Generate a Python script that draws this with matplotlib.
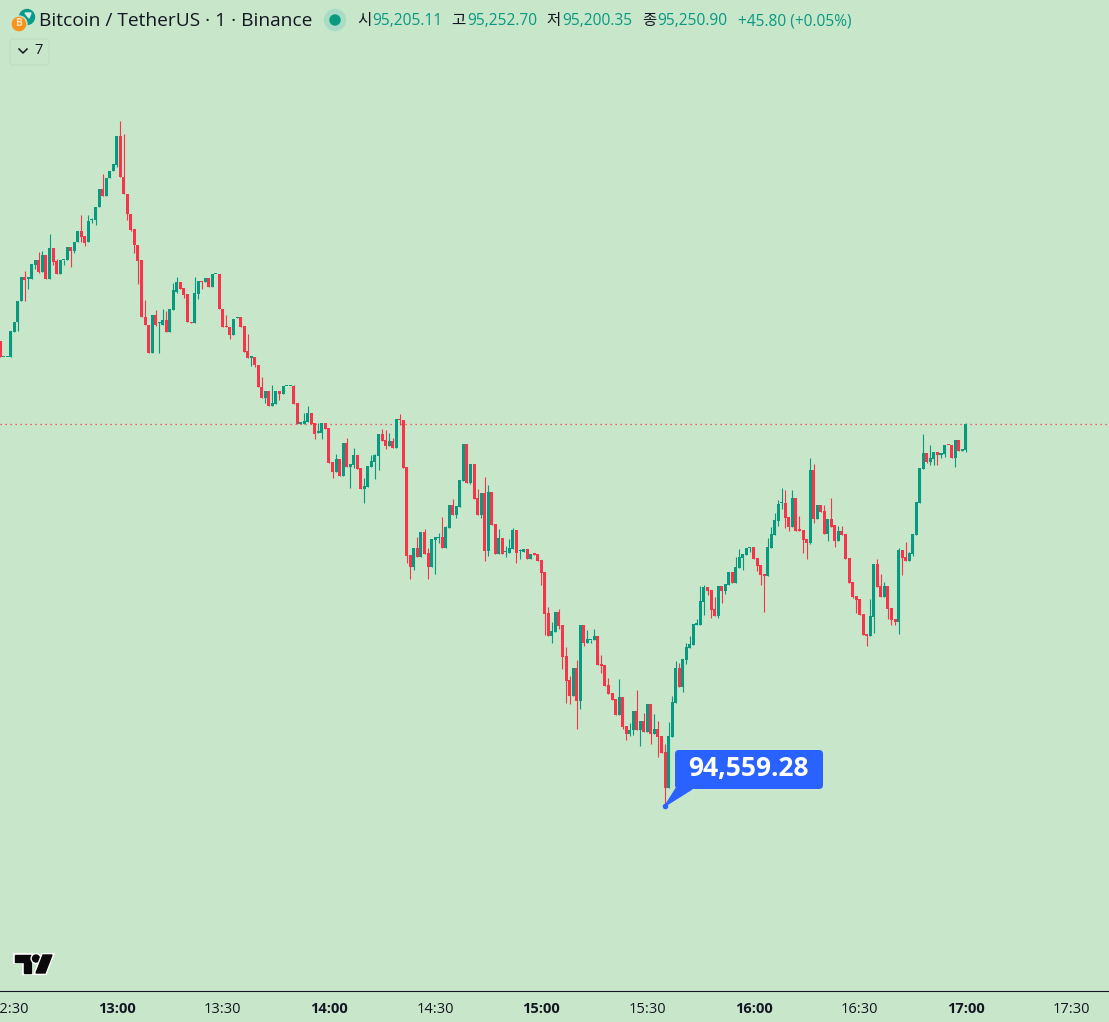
import numpy as np
import matplotlib
matplotlib.use("Agg")
import matplotlib.pyplot as plt
import matplotlib.patheffects as pe
from matplotlib.patches import Circle, FancyBboxPatch, Polygon

plt.rcParams['font.family'] = ['Open Sans', 'Noto Sans CJK KR', 'DejaVu Sans']

BG = '#C8E6C9'
UP = '#089981'
DOWN = '#F6344A'
BLUE = '#2962FF'
INK = '#131722'

# 1 minute candles, BTCUSDT, first one is 12:27
opens = [95402,95373,95373,95373,95419,95436,95474,95518,95515,95515,
    95540,95550,95528,95558,95515,95571,95547,95524,95549,95550,
    95573,95565,95582,95602,95593,95581,95621,95621,95645,95678,
    95666,95698,95710,95722,95774,95700,95668,95633,95605,95576,
    95549,95445,95432,95381,95449,95435,95432,95440,95419,95458,
    95492,95509,95498,95487,95436,95434,95487,95511,95509,95516,
    95500,95523,95523,95461,95429,95427,95413,95444,95445,95429,
    95384,95372,95373,95359,95319,95299,95312,95284,95288,95312,
    95306,95320,95320,95321,95290,95252,95252,95255,95272,95254,
    95236,95236,95254,95244,95183,95165,95188,95158,95217,95174,
    95178,95196,95172,95134,95138,95174,95183,95194,95234,95223,
    95212,95221,95208,95261,95259,95174,95014,94993,95027,95011,
    95056,95018,94993,95042,95045,95047,95027,95063,95105,95087,
    95101,95149,95216,95145,95179,95118,95087,95127,95022,95129,
    95071,95016,95045,95019,95018,95025,95060,95021,95020,95025,
    95007,95016,95016,95005,94983,94909,94867,94875,94911,94887,
    94831,94788,94759,94809,94750,94887,94855,94860,94860,94868,
    94817,94815,94779,94764,94753,94724,94757,94704,94690,94697,
    94732,94697,94713,94693,94744,94690,94699,94686,94657,94592,
    94684,94746,94809,94775,94824,94846,94851,94888,94887,94929,
    94956,94951,94916,94904,94958,94949,94960,94983,94964,94991,
    95009,95014,95027,95029,95009,94996,94980,94976,95027,95051,
    95076,95108,95109,95083,95065,95118,95060,95060,95043,95036,
    95168,95080,95105,95094,95052,95080,95069,95040,95058,95052,
    95009,94965,94940,94935,94907,94871,94868,94902,94998,94958,
    94938,94958,94918,94898,94893,95023,95011,95003,95016,95051,
    95109,95170,95199,95183,95188,95201,95196,95197,95214,95214,
    95190,95223,95203,95205.11]
closes = [95373,95374,95374,95420,95437,95474,95518,95513,95517,95542,
    95550,95527,95558,95515,95571,95546,95524,95550,95550,95573,
    95565,95582,95602,95591,95580,95620,95622,95645,95678,95666,
    95698,95710,95723,95774,95700,95668,95633,95604,95576,95548,
    95445,95432,95381,95450,95432,95436,95440,95419,95460,95495,
    95509,95497,95486,95436,95434,95489,95511,95509,95516,95501,
    95523,95524,95461,95428,95427,95413,95443,95445,95428,95382,
    95371,95373,95359,95318,95299,95312,95284,95290,95312,95306,
    95321,95321,95321,95288,95251,95253,95257,95272,95252,95234,
    95237,95254,95243,95181,95165,95188,95158,95217,95174,95179,
    95196,95170,95134,95139,95176,95185,95196,95234,95221,95212,
    95221,95208,95261,95259,95172,95013,94993,95027,95011,95056,
    95016,94993,95043,95047,95047,95027,95065,95105,95087,95103,
    95150,95216,95145,95179,95116,95087,95127,95022,95129,95069,
    95016,95045,95016,95020,95027,95060,95018,95022,95025,95007,
    95016,95015,95003,94982,94907,94867,94877,94911,94886,94829,
    94786,94759,94809,94750,94887,94855,94862,94861,94868,94815,
    94813,94777,94762,94751,94724,94757,94703,94690,94697,94732,
    94697,94713,94693,94744,94690,94699,94684,94655,94592,94686,
    94748,94809,94775,94826,94848,94853,94889,94889,94931,94956,
    94949,94915,94904,94958,94949,94962,94983,94964,94993,95011,
    95016,95027,95029,95007,94994,94978,94976,95029,95052,95078,
    95107,95109,95081,95065,95118,95058,95058,95042,95036,95168,
    95080,95105,95092,95052,95080,95065,95040,95058,95051,95007,
    94964,94938,94933,94906,94869,94868,94904,94998,94956,94938,
    94958,94916,94897,94893,95023,95009,95003,95018,95052,95110,
    95172,95199,95183,95190,95201,95196,95199,95214,95213,95190,
    95223,95203,95204,95250.90]
highs = [95402,95374,95374,95420,95437,95474,95518,95529,95517,95542,
    95550,95564,95565,95558,95596,95571,95551,95550,95550,95573,
    95573,95582,95602,95631,95593,95631,95625,95645,95678,95705,
    95698,95710,95723,95774,95801,95778,95668,95633,95605,95576,
    95549,95477,95432,95450,95458,95437,95460,95457,95460,95508,
    95518,95509,95498,95487,95436,95518,95511,95511,95516,95516,
    95523,95524,95523,95461,95449,95427,95443,95445,95445,95429,
    95415,95373,95373,95359,95337,95312,95312,95322,95312,95312,
    95321,95321,95321,95322,95290,95253,95272,95284,95272,95254,
    95253,95254,95254,95244,95183,95197,95188,95217,95226,95179,
    95208,95196,95172,95154,95176,95196,95197,95234,95243,95241,
    95236,95226,95261,95270,95259,95174,95014,95027,95047,95056,
    95061,95027,95043,95047,95055,95083,95067,95105,95116,95103,
    95150,95216,95216,95179,95179,95134,95127,95156,95141,95129,
    95071,95061,95045,95031,95043,95063,95060,95025,95025,95025,
    95016,95016,95016,95005,94983,94920,94893,94911,94916,94887,
    94848,94795,94809,94824,94887,94887,94878,94861,94880,94868,
    94833,94815,94791,94764,94753,94790,94757,94704,94710,94732,
    94770,94713,94728,94744,94744,94726,94713,94686,94672,94712,
    94759,94822,94819,94826,94855,94868,94889,94898,94958,94960,
    94956,94951,94938,94958,94958,94962,94983,94983,95011,95025,
    95016,95027,95029,95029,95009,94996,94980,95045,95065,95091,
    95114,95136,95132,95083,95132,95118,95085,95060,95043,95190,
    95179,95105,95105,95105,95080,95118,95069,95067,95067,95052,
    95009,94965,94940,94935,94907,94871,94935,94998,95007,94980,
    94965,94958,94918,94898,95027,95023,95038,95020,95052,95110,
    95172,95234,95199,95214,95201,95201,95199,95214,95214,95214,
    95223,95223,95206,95252.70]
lows = [95373,95373,95373,95373,95419,95420,95474,95475,95497,95515,
    95533,95526,95528,95515,95515,95540,95524,95524,95540,95550,
    95537,95561,95582,95582,95575,95581,95617,95613,95645,95666,
    95666,95698,95710,95717,95700,95668,95622,95602,95561,95506,
    95445,95432,95381,95381,95430,95381,95431,95419,95419,95458,
    95490,95497,95481,95436,95434,95434,95479,95497,95509,95501,
    95500,95523,95461,95428,95427,95406,95413,95444,95428,95382,
    95371,95357,95356,95318,95299,95290,95284,95284,95288,95295,
    95306,95320,95320,95288,95251,95252,95252,95255,95252,95225,
    95236,95225,95243,95181,95154,95165,95158,95158,95174,95136,
    95172,95170,95134,95109,95138,95174,95152,95168,95221,95207,
    95212,95208,95208,95250,95172,95000,94971,94987,95011,95011,
    95016,94971,94993,94980,95036,95027,95027,95063,95087,95081,
    95101,95149,95145,95143,95116,95087,95081,95003,95013,95069,
    95016,95016,95016,95011,95018,95025,95000,95007,95020,95007,
    95007,95015,95003,94960,94869,94867,94855,94875,94880,94808,
    94746,94744,94759,94699,94735,94849,94855,94855,94860,94815,
    94800,94777,94762,94751,94724,94724,94699,94679,94686,94688,
    94697,94668,94693,94693,94672,94690,94648,94655,94559.28,94592,
    94684,94746,94775,94766,94817,94846,94851,94888,94887,94906,
    94942,94900,94904,94900,94927,94944,94960,94964,94964,94991,
    94987,95014,95020,95007,94985,94960,94911,94976,95027,95051,
    95067,95098,95063,95058,95065,95058,95058,95018,95007,95034,
    95072,95080,95092,95052,95040,95065,95029,95040,95051,95007,
    94964,94936,94909,94906,94869,94849,94868,94873,94956,94938,
    94938,94898,94887,94887,94871,94978,95003,95003,95013,95051,
    95109,95170,95181,95178,95178,95178,95190,95192,95213,95190,
    95174,95203,95203,95200.35]

time_labels = ['12:30', '13:00', '13:30', '14:00', '14:30', '15:00', '15:30', '16:00', '16:30', '17:00', '17:30']
time_ticks = [3, 33, 63, 93, 123, 153, 183, 213, 243, 273, 303]

o = np.array(opens)
c = np.array(closes)
h = np.array(highs)
l = np.array(lows)
x = np.arange(len(o))
colors = [UP if b >= a else DOWN for a, b in zip(o, c)]

fig = plt.figure(figsize=(11.09, 10.22), dpi=100, facecolor=BG)
ax = fig.add_axes([0, 31 / 1022, 1, 991 / 1022], facecolor=BG)

ax.vlines(x, l, h, colors=colors, linewidth=0.8, zorder=2, snap=True)
ax.bar(x, np.maximum(np.abs(c - o), 2.6), bottom=np.minimum(o, c), width=0.85, color=colors, linewidth=0, zorder=3)

# last price line
ax.axhline(closes[-1], color=DOWN, linewidth=0.9, linestyle=(0, (1, 3)), zorder=1)

ax.set_xlim(0.0, 313.49)
ax.set_ylim(94223.8, 96020.5)
ax.set_yticks([])
ax.set_xticks(time_ticks)
ax.set_xticklabels(time_labels)
ax.tick_params(axis='x', length=0, pad=8, labelsize=10.5, labelcolor=INK)
for tick, name in zip(ax.get_xticklabels(), time_labels):
    if name.endswith(':00'):
        tick.set_fontweight('bold')
for s in ['top', 'left', 'right']:
    ax.spines[s].set_visible(False)
ax.spines['bottom'].set_color(INK)
ax.spines['bottom'].set_linewidth(0.8)

# marker on the lowest candle
low_idx = int(np.argmin(l))
ax.scatter([x[low_idx]], [l[low_idx]], s=16, color=BLUE, zorder=5, linewidths=0)

# everything that sits on top of the chart, in screen pixels
ov = fig.add_axes([0, 0, 1, 1], facecolor='none')
ov.set_xlim(0, 1109)
ov.set_ylim(1022, 0)
ov.axis('off')

# symbol icons
ov.add_patch(Circle((27, 17), 7.5, color='#0A9A8C', zorder=2))
ov.add_patch(Polygon([(25, 13), (31, 13), (29, 18)], closed=True, color='#D5EEE6', zorder=3))
ov.add_patch(Circle((19, 24), 8, color='#F7931A', ec=BG, linewidth=1, zorder=4))
ov.text(19, 24, 'B', color='#FCE3C0', fontsize=7.5, fontweight='bold', ha='center', va='center', zorder=5)

ov.text(39, 21.5, 'Bitcoin / TetherUS · 1 · Binance', fontsize=13.8, color=INK, va='center', ha='left')

# market status dot
ov.add_patch(Circle((335, 20), 10.5, color='#A9DCC4', zorder=2))
ov.add_patch(Circle((335, 20), 5, color=UP, zorder=3))

# ohlc legend
legend_items = [(357, '시', INK), (372, '95,205.11', UP), (451, '고', INK), (467, '95,252.70', UP),
                (546, '저', INK), (562, '95,200.35', UP), (642, '종', INK), (657, '95,250.90', UP),
                (738, '+45.80 (+0.05%)', UP)]
for px, txt, col in legend_items:
    ov.text(px, 21, txt, fontsize=11.2, color=col, va='center', ha='left')

# collapsed indicators button
ov.add_patch(FancyBboxPatch((10, 39), 39, 26, boxstyle='round,pad=0,rounding_size=3', fc='none', ec='#BFDCC2', linewidth=0.8))
ov.plot([19, 23, 27], [49, 53, 49], color=INK, linewidth=1.1)
ov.text(34.5, 51, '7', fontsize=10.5, color=INK, va='center', ha='left')

# low price callout
ov.add_patch(Polygon([(677, 787), (692, 789), (665, 806)], closed=True, color=BLUE, zorder=6))
ov.add_patch(FancyBboxPatch((675, 750), 148, 39, boxstyle='round,pad=0,rounding_size=4', fc=BLUE, ec='none', zorder=6))
ov.text(748.5, 768.5, f'{lows[low_idx]:,.2f}', color='white', fontsize=19, fontweight='bold', ha='center', va='center', zorder=7)

# tradingview logo
stroke = [pe.withStroke(linewidth=3, foreground='white')]
logo = [Polygon([(15, 955), (31, 955), (31, 973), (24, 973), (24, 962), (15, 962)], closed=True, color='#0A0A0A'),
        Circle((36, 958.5), 3.5, color='#0A0A0A'),
        Polygon([(43, 955), (52, 955), (45, 973), (36, 973)], closed=True, color='#0A0A0A')]
for patch in logo:
    patch.set_path_effects(stroke)
    ov.add_patch(patch)

fig.savefig('out.png', dpi=100, facecolor=BG)
